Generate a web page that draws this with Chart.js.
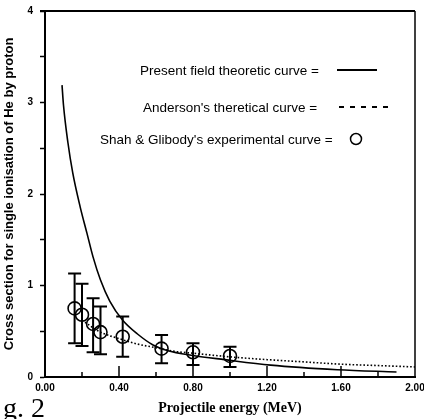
<!DOCTYPE html>
<html>
<head>
<meta charset="utf-8">
<script src="https://cdn.jsdelivr.net/npm/chart.js@4/dist/chart.umd.min.js"></script>
<style>
  html, body { margin: 0; padding: 0; background: #fff; }
  canvas { display: block; }
</style>
</head>
<body>
<canvas id="cross-chart" width="424" height="419"></canvas>
<script>
// Present field theoretic curve
const theoryEnergy = [0.092, 0.10, 0.124, 0.15, 0.19, 0.227, 0.26, 0.30, 0.35, 0.42, 0.50, 0.584, 0.66, 0.80, 0.97, 1.22, 1.58, 1.90];
const theorySigma = [3.19, 2.97, 2.56, 2.23, 1.86, 1.57, 1.31, 1.06, 0.83, 0.62, 0.47, 0.35, 0.29, 0.235, 0.19, 0.13, 0.08, 0.055];

// Anderson's theoretical curve
const andersonEnergy = [0.20, 0.30, 0.40, 0.50, 0.60, 0.70, 0.80, 1.00, 1.20, 1.40, 1.60, 1.80, 2.00];
const andersonSigma = [0.62, 0.49, 0.42, 0.36, 0.32, 0.28, 0.26, 0.22, 0.19, 0.165, 0.14, 0.125, 0.11];

// Shah & Gilbody experimental points with error bars
const expEnergy = [0.16, 0.20, 0.26, 0.30, 0.42, 0.63, 0.80, 1.00];
const expSigma = [0.75, 0.68, 0.58, 0.49, 0.44, 0.31, 0.27, 0.23];
const expHigh = [1.13, 1.02, 0.86, 0.77, 0.66, 0.46, 0.37, 0.33];
const expLow = [0.37, 0.34, 0.27, 0.25, 0.22, 0.15, 0.13, 0.11];

const legendLabels = ['Present field theoretic curve =', "Anderson's theretical curve =", "Shah & Glibody's experimental curve ="];

function toPoints(xs, ys) {
    return xs.map((x, i) => ({ x: x, y: ys[i] }));
}

const sansBold = { family: 'Liberation Sans, Arial, sans-serif', weight: 'bold' };

// error bars, drawn from the scales
const errorBars = {
    id: 'errorBars',
    beforeDatasetsDraw(chart) {
        const ctx = chart.ctx;
        const xs = chart.scales.x, ys = chart.scales.y;
        ctx.save();
        ctx.strokeStyle = '#000';
        ctx.lineWidth = 2;
        expEnergy.forEach((e, i) => {
            const px = xs.getPixelForValue(e);
            const top = ys.getPixelForValue(expHigh[i]);
            const bot = ys.getPixelForValue(expLow[i]);
            ctx.beginPath();
            ctx.moveTo(px, top); ctx.lineTo(px, bot);
            ctx.moveTo(px - 6.5, top); ctx.lineTo(px + 6.5, top);
            ctx.moveTo(px - 6.5, bot); ctx.lineTo(px + 6.5, bot);
            ctx.stroke();
        });
        ctx.restore();
    }
};

// frame, inward x ticks, legend and figure label
const decorations = {
    id: 'decorations',
    afterDraw(chart) {
        const ctx = chart.ctx;
        const area = chart.chartArea;
        const xs = chart.scales.x;
        ctx.save();
        ctx.strokeStyle = '#000';

        // top and right border
        ctx.lineWidth = 2;
        ctx.beginPath();
        ctx.moveTo(area.left - 5, area.top);
        ctx.lineTo(area.right, area.top);
        ctx.stroke();
        ctx.lineWidth = 1.5;
        ctx.beginPath();
        ctx.moveTo(area.right, area.top);
        ctx.lineTo(area.right, area.bottom);
        ctx.stroke();

        // x ticks pointing up into the plot
        ctx.lineWidth = 1.5;
        for (let k = 1; k < 10; k++) {
            const v = k * 0.2;
            const px = xs.getPixelForValue(v);
            const len = k % 2 === 0 ? 11 : 5;
            ctx.beginPath();
            ctx.moveTo(px, area.bottom);
            ctx.lineTo(px, area.bottom - len);
            ctx.stroke();
        }

        // legend
        ctx.fillStyle = '#000';
        ctx.font = '13.5px Liberation Sans, Arial, sans-serif';
        ctx.textBaseline = 'middle';
        ctx.textAlign = 'left';
        ctx.fillText(legendLabels[0], 140, 71);
        ctx.fillText(legendLabels[1], 143, 108);
        ctx.fillText(legendLabels[2], 100, 140);

        ctx.lineWidth = 1.8;
        ctx.beginPath();
        ctx.moveTo(337, 70); ctx.lineTo(377, 70);
        ctx.stroke();
        ctx.setLineDash([5, 6]);
        ctx.beginPath();
        ctx.moveTo(339, 107); ctx.lineTo(390, 107);
        ctx.stroke();
        ctx.setLineDash([]);
        ctx.lineWidth = 1.5;
        ctx.beginPath();
        ctx.arc(356, 139, 5.5, 0, Math.PI * 2);
        ctx.stroke();

        // fragment of the figure caption
        ctx.font = '28px Liberation Serif, Times New Roman, serif';
        ctx.textBaseline = 'alphabetic';
        ctx.fillText('g. 2', 3, 417);
        ctx.restore();
    }
};

const chartData = {
    datasets: [
        {
            label: 'Present field theoretic curve',
            data: toPoints(theoryEnergy, theorySigma),
            showLine: true,
            borderColor: '#000',
            borderWidth: 1.6,
            pointRadius: 0,
            cubicInterpolationMode: 'monotone'
        },
        {
            label: "Anderson's theretical curve",
            data: toPoints(andersonEnergy, andersonSigma),
            showLine: true,
            borderColor: '#000',
            borderWidth: 1.6,
            borderDash: [1.6, 2],
            pointRadius: 0,
            cubicInterpolationMode: 'monotone'
        },
        {
            label: "Shah & Glibody's experimental curve",
            data: toPoints(expEnergy, expSigma),
            showLine: false,
            borderColor: '#000',
            backgroundColor: 'rgba(0,0,0,0)',
            pointBorderWidth: 1.6,
            pointRadius: 6.5,
            pointStyle: 'circle'
        }
    ]
};

const config = {
    type: 'scatter',
    data: chartData,
    options: {
        responsive: false,
        animation: false,
        devicePixelRatio: 1,
        layout: { padding: { left: 0, top: 11, right: 9, bottom: 0 } },
        plugins: {
            legend: { display: false },
            tooltip: { enabled: false }
        },
        scales: {
            x: {
                type: 'linear',
                min: 0,
                max: 2,
                afterFit(scale) {
                    scale.height = 42;
                    scale.paddingLeft = 0;
                    scale.paddingRight = 0;
                },
                ticks: {
                    stepSize: 0.4,
                    color: '#000',
                    padding: 5,
                    maxRotation: 0,
                    font: Object.assign({ size: 10 }, sansBold),
                    callback: (v) => v.toFixed(2)
                },
                grid: { drawOnChartArea: false, drawTicks: false },
                border: { color: '#000', width: 2 },
                title: {
                    display: true,
                    text: 'Projectile energy (MeV)',
                    color: '#000',
                    font: { family: 'Liberation Serif, Times New Roman, serif', weight: 'bold', size: 14 },
                    padding: { top: 0, bottom: 2 }
                }
            },
            y: {
                min: 0,
                max: 4,
                afterFit(scale) {
                    scale.width = 45;
                    scale.paddingTop = 0;
                    scale.paddingBottom = 0;
                },
                ticks: {
                    stepSize: 0.5,
                    color: '#000',
                    padding: 7,
                    font: Object.assign({ size: 10 }, sansBold),
                    callback: (v) => (v % 1 === 0 ? String(v) : '')
                },
                grid: {
                    drawOnChartArea: false,
                    tickLength: 5,
                    tickWidth: 1.5,
                    tickColor: '#000'
                },
                border: { color: '#000', width: 2 },
                title: {
                    display: true,
                    text: 'Cross section for single ionisation of He by proton',
                    color: '#000',
                    font: Object.assign({ size: 13 }, sansBold),
                    padding: { top: 2, bottom: 0 }
                }
            }
        }
    },
    plugins: [errorBars, decorations]
};

const crossChart = new Chart(document.getElementById('cross-chart'), config);
</script>
</body>
</html>
